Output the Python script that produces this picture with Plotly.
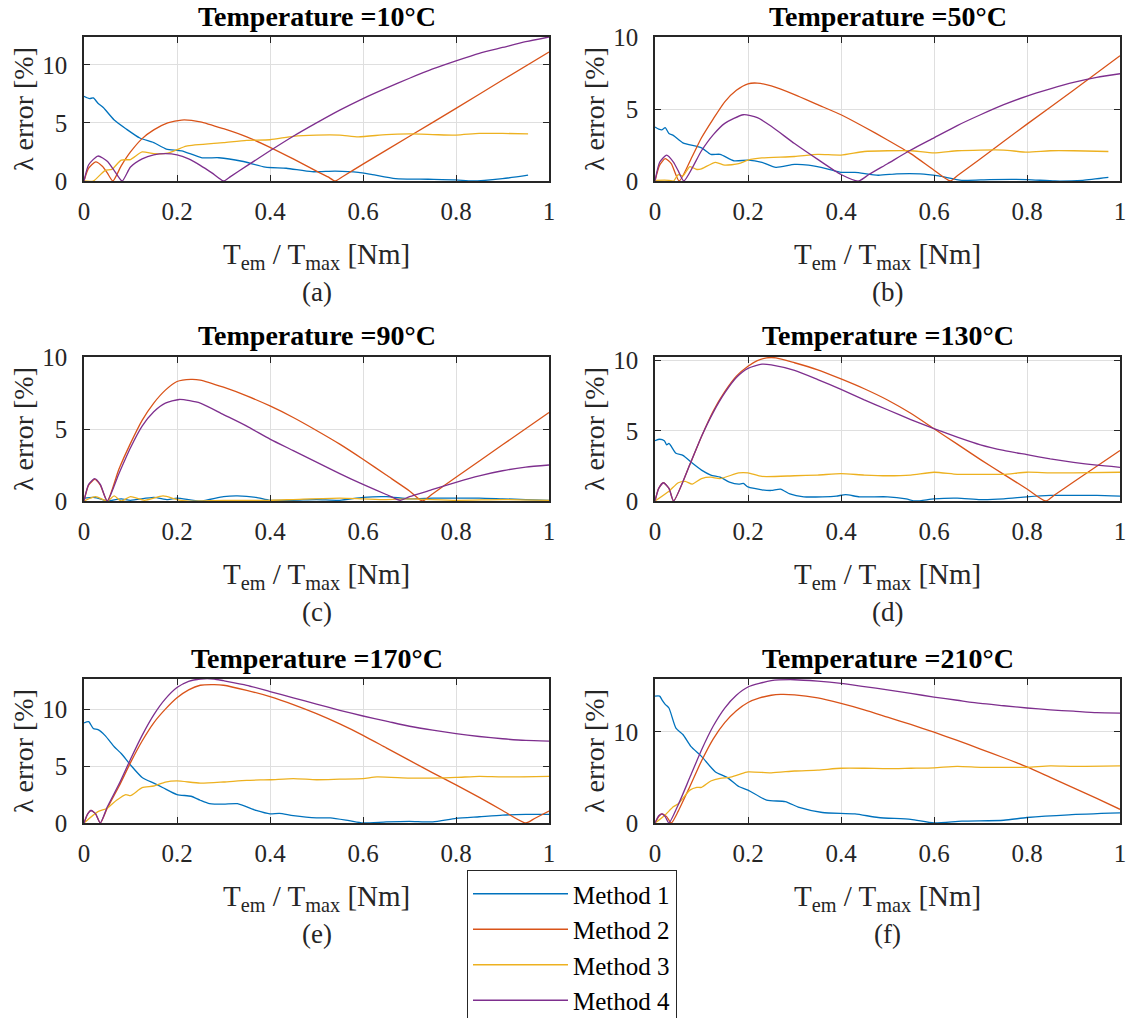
import plotly.graph_objects as go

# ---------------- data ----------------
TITLES = ["Temperature =10°C", "Temperature =50°C", "Temperature =90°C",
          "Temperature =130°C", "Temperature =170°C", "Temperature =210°C"]
LABELS = ["(a)", "(b)", "(c)", "(d)", "(e)", "(f)"]
METHODS = ["Method 1", "Method 2", "Method 3", "Method 4"]
X_TITLE = "T<sub>em</sub> / T<sub>max</sub> [Nm]"
Y_TITLE = "λ error [%]"
X_TICKS = [0, 0.2, 0.4, 0.6, 0.8, 1]
X_TICKTEXT = ["0", "0.2", "0.4", "0.6", "0.8", "1"]
Y_MAX = [12.4, 10.0, 10.0, 10.26, 12.65, 15.78]
Y_TICKS = [[0, 5, 10], [0, 5, 10], [0, 5, 10], [0, 5, 10], [0, 5, 10], [0, 10]]

# Panel (a) 10°C
A_M1_X = [0, 0.012, 0.02, 0.03, 0.042, 0.065, 0.09, 0.12, 0.15, 0.177, 0.21, 0.254, 0.29, 0.34, 0.39, 0.435,
          0.49, 0.54, 0.59, 0.62, 0.67, 0.74, 0.8, 0.835, 0.9, 0.955]
A_M1_Y = [7.3, 7.1, 7.15, 6.7, 6.3, 5.25, 4.5, 3.7, 3.3, 2.75, 2.6, 2.0, 2.0, 1.7, 1.2, 1.1,
          0.8, 0.85, 0.75, 0.55, 0.2, 0.15, 0.1, 0.0, 0.2, 0.5]
A_M2_X = [0, 0.01, 0.025, 0.04, 0.05, 0.062, 0.08, 0.1, 0.125, 0.15, 0.18, 0.21, 0.25, 0.3, 0.35, 0.4,
          0.45, 0.5, 0.525, 0.54, 0.555, 0.6, 0.7, 0.8, 0.9, 1.0]
A_M2_Y = [0, 1.1, 1.65, 1.25, 0.7, 0, 1.3, 2.5, 3.65, 4.4, 5.0, 5.25, 5.1, 4.5, 3.8, 2.9,
          1.9, 0.85, 0.35, 0, 0.35, 1.45, 3.85, 6.25, 8.7, 11.1]
A_M3_X = [0, 0.02, 0.045, 0.06, 0.08, 0.1, 0.125, 0.15, 0.18, 0.2, 0.22, 0.3, 0.35, 0.4, 0.45, 0.5,
          0.55, 0.59, 0.65, 0.7, 0.75, 0.8, 0.85, 0.9, 0.955]
A_M3_Y = [0, 0, 0.9, 1.0, 1.8, 1.85, 2.5, 2.35, 2.4, 2.7, 3.0, 3.3, 3.5, 3.55, 3.85, 3.95,
          3.95, 3.8, 4.0, 4.05, 4.0, 3.95, 4.1, 4.1, 4.05]
A_M4_X = [0, 0.01, 0.03, 0.05, 0.065, 0.082, 0.1, 0.125, 0.15, 0.175, 0.2, 0.225, 0.25, 0.275, 0.3,
          0.315, 0.35, 0.4, 0.45, 0.5, 0.55, 0.6, 0.65, 0.7, 0.75, 0.8, 0.85, 0.9, 0.95, 1.0]
A_M4_Y = [0, 1.4, 2.15, 1.7, 0.9, 0, 1.2, 1.9, 2.25, 2.35, 2.25, 1.9, 1.35, 0.7, 0,
          0.38, 1.3, 2.6, 3.85, 5.0, 6.1, 7.1, 8.0, 8.85, 9.65, 10.35, 11.0, 11.5, 12.0, 12.4]

# Panel (b) 50°C
B_M1_X = [0, 0.008, 0.015, 0.022, 0.03, 0.04, 0.06, 0.1, 0.12, 0.14, 0.17, 0.2, 0.23, 0.26, 0.3, 0.33,
          0.37, 0.4, 0.43, 0.48, 0.52, 0.57, 0.61, 0.66, 0.72, 0.8, 0.86, 0.92, 0.975]
B_M1_Y = [3.75, 3.6, 3.55, 3.7, 3.3, 3.15, 2.65, 2.3, 1.85, 1.85, 1.4, 1.45, 1.3, 0.95, 1.15, 1.1,
          0.85, 0.6, 0.6, 0.4, 0.5, 0.5, 0.35, 0.05, 0.1, 0.1, 0.0, 0.05, 0.25]
B_M2_X = [0, 0.01, 0.022, 0.035, 0.052, 0.08, 0.1, 0.125, 0.15, 0.175, 0.2, 0.22, 0.25, 0.3, 0.35,
          0.4, 0.45, 0.5, 0.55, 0.6, 0.635, 0.65, 0.7, 0.8, 0.9, 1.0]
B_M2_Y = [0, 1.1, 1.55, 1.2, 0, 1.7, 3.0, 4.3, 5.5, 6.3, 6.75, 6.8, 6.6, 6.0, 5.3,
          4.6, 3.75, 2.85, 1.9, 0.75, 0, 0.36, 1.55, 3.95, 6.3, 8.7]
B_M3_X = [0, 0.03, 0.04, 0.05, 0.06, 0.075, 0.09, 0.1, 0.13, 0.15, 0.18, 0.2, 0.23, 0.3, 0.35, 0.4,
          0.45, 0.5, 0.55, 0.6, 0.65, 0.7, 0.75, 0.8, 0.85, 0.9, 0.975]
B_M3_Y = [0.05, 0.05, 0.0, 0.45, 0.35, 1.0, 0.8, 0.85, 1.3, 1.1, 1.2, 1.45, 1.6, 1.7, 1.85, 1.8,
          2.05, 2.1, 2.1, 1.95, 2.1, 2.15, 2.15, 2.0, 2.1, 2.1, 2.05]
B_M4_X = [0, 0.01, 0.025, 0.04, 0.05, 0.062, 0.1, 0.125, 0.15, 0.19, 0.22, 0.25, 0.3, 0.35, 0.4,
          0.438, 0.46, 0.5, 0.55, 0.6, 0.65, 0.7, 0.75, 0.8, 0.85, 0.9, 0.95, 1.0]
B_M4_Y = [0, 1.3, 1.8, 1.3, 0.7, 0, 2.1, 3.2, 4.0, 4.6, 4.4, 3.8, 2.6, 1.5, 0.45,
          0, 0.45, 1.2, 2.15, 3.0, 3.85, 4.6, 5.3, 5.9, 6.4, 6.85, 7.2, 7.45]

# Panel (c) 90°C
C_M1_X = [0, 0.02, 0.04, 0.05, 0.08, 0.1, 0.15, 0.18, 0.2, 0.25, 0.3, 0.33, 0.37, 0.4, 0.45, 0.5,
          0.55, 0.6, 0.65, 0.7, 0.75, 0.8, 0.85, 0.9, 0.95, 1.0]
C_M1_Y = [0.2, 0.25, 0.1, 0.0, 0.15, 0.05, 0.25, 0.1, 0.2, 0.0, 0.3, 0.35, 0.25, 0.05, 0.05, 0.1,
          0.05, 0.25, 0.3, 0.15, 0.2, 0.2, 0.2, 0.15, 0.1, 0.05]
C_M2_X = [0, 0.01, 0.023, 0.035, 0.05, 0.075, 0.1, 0.125, 0.15, 0.175, 0.2, 0.23, 0.25, 0.3, 0.35,
          0.4, 0.45, 0.5, 0.55, 0.6, 0.65, 0.7, 0.728, 0.75, 0.8, 0.9, 1.0]
C_M2_Y = [0, 1.1, 1.5, 1.1, 0, 2.2, 4.0, 5.6, 6.8, 7.7, 8.3, 8.45, 8.4, 7.9, 7.3,
          6.6, 5.8, 4.9, 3.95, 2.9, 1.8, 0.7, 0, 0.5, 1.65, 3.9, 6.15]
C_M3_X = [0, 0.025, 0.05, 0.065, 0.08, 0.1, 0.13, 0.17, 0.2, 0.22, 0.3, 0.4, 0.45, 0.55, 0.6, 0.65,
          0.7, 0.8, 0.9, 1.0]
C_M3_Y = [0, 0.3, 0, 0.35, 0.0, 0.3, 0.05, 0.35, 0.1, 0.0, 0.05, 0.05, 0.1, 0.2, 0.15, 0.1,
          0.15, 0.05, 0.1, 0.05]
C_M4_X = [0, 0.01, 0.023, 0.035, 0.05, 0.075, 0.1, 0.125, 0.15, 0.175, 0.205, 0.25, 0.3, 0.35, 0.4,
          0.45, 0.5, 0.55, 0.6, 0.65, 0.68, 0.7, 0.75, 0.8, 0.85, 0.9, 0.95, 1.0]
C_M4_Y = [0, 1.15, 1.55, 1.15, 0, 1.9, 3.7, 5.2, 6.2, 6.8, 7.05, 6.8, 6.0, 5.2, 4.3,
          3.5, 2.7, 1.9, 1.15, 0.45, 0.05, 0.3, 0.8, 1.3, 1.75, 2.1, 2.35, 2.5]

# Panel (d) 130°C
D_M1_X = [0, 0.01, 0.02, 0.025, 0.03, 0.045, 0.06, 0.08, 0.1, 0.12, 0.14, 0.16, 0.18, 0.19, 0.2,
          0.23, 0.25, 0.27, 0.29, 0.32, 0.36, 0.39, 0.41, 0.44, 0.5, 0.54, 0.56, 0.6, 0.65, 0.7,
          0.75, 0.8, 0.85, 0.9, 0.95, 1.0]
D_M1_Y = [4.3, 4.4, 4.3, 4.0, 4.1, 3.4, 3.25, 2.7, 2.2, 1.85, 1.7, 1.35, 1.2, 1.25, 1.0,
          0.8, 0.75, 0.85, 0.5, 0.3, 0.3, 0.35, 0.45, 0.3, 0.3, 0.15, 0.0, 0.15, 0.2, 0.1,
          0.15, 0.3, 0.4, 0.4, 0.4, 0.35]
D_M2_X = [0, 0.008, 0.018, 0.03, 0.04, 0.075, 0.1, 0.125, 0.15, 0.175, 0.2, 0.22, 0.24, 0.26, 0.3,
          0.35, 0.4, 0.45, 0.5, 0.55, 0.6, 0.65, 0.7, 0.75, 0.8, 0.84, 0.86, 0.9, 1.0]
D_M2_Y = [0, 0.9, 1.3, 0.9, 0, 2.6, 4.6, 6.4, 7.8, 8.9, 9.6, 10.0, 10.2, 10.2, 9.85,
          9.35, 8.7, 8.0, 7.2, 6.25, 5.15, 4.05, 2.95, 1.9, 0.85, 0, 0.45, 1.35, 3.6]
D_M3_X = [0, 0.03, 0.05, 0.065, 0.08, 0.1, 0.12, 0.14, 0.18, 0.2, 0.23, 0.3, 0.35, 0.4, 0.45, 0.5,
          0.55, 0.6, 0.65, 0.7, 0.75, 0.8, 0.85, 0.9, 1.0]
D_M3_Y = [0, 0.7, 1.3, 1.4, 1.2, 1.6, 1.7, 1.6, 2.0, 2.0, 1.75, 1.8, 1.85, 1.95, 1.85, 1.8,
          1.85, 2.05, 1.9, 1.9, 1.9, 2.05, 2.0, 2.0, 2.05]
D_M4_X = [0, 0.008, 0.018, 0.03, 0.04, 0.075, 0.1, 0.125, 0.15, 0.175, 0.2, 0.23, 0.25, 0.3, 0.35,
          0.4, 0.45, 0.5, 0.55, 0.6, 0.65, 0.7, 0.75, 0.8, 0.85, 0.9, 0.95, 1.0]
D_M4_Y = [0, 0.9, 1.3, 0.9, 0, 2.6, 4.6, 6.3, 7.7, 8.8, 9.45, 9.75, 9.7, 9.3, 8.65,
          7.95, 7.2, 6.5, 5.8, 5.15, 4.55, 4.0, 3.6, 3.3, 3.0, 2.75, 2.55, 2.4]

# Panel (e) 170°C
E_M1_X = [0, 0.01, 0.02, 0.03, 0.045, 0.065, 0.08, 0.1, 0.125, 0.15, 0.17, 0.2, 0.23, 0.25, 0.27,
          0.3, 0.33, 0.37, 0.4, 0.42, 0.45, 0.5, 0.53, 0.57, 0.6, 0.65, 0.7, 0.75, 0.8, 0.85, 0.9,
          0.95, 1.0]
E_M1_Y = [8.8, 8.9, 8.3, 8.2, 7.7, 6.7, 6.1, 5.1, 4.0, 3.5, 3.1, 2.5, 2.35, 2.0, 1.7,
          1.65, 1.7, 1.1, 0.8, 0.85, 0.65, 0.45, 0.45, 0.2, 0.0, 0.1, 0.15, 0.1, 0.4, 0.55, 0.7,
          0.75, 0.75]
E_M2_X = [0, 0.008, 0.015, 0.025, 0.035, 0.05, 0.075, 0.1, 0.125, 0.15, 0.175, 0.2, 0.225, 0.25,
          0.28, 0.3, 0.35, 0.4, 0.45, 0.5, 0.55, 0.6, 0.65, 0.7, 0.75, 0.8, 0.85, 0.9, 0.95, 0.97, 1.0]
E_M2_Y = [0, 0.8, 1.1, 0.8, 0, 1.3, 3.2, 5.3, 7.2, 8.8, 10.0, 11.0, 11.7, 12.1,
          12.15, 12.1, 11.65, 11.1, 10.4, 9.6, 8.7, 7.7, 6.6, 5.5, 4.4, 3.35, 2.25, 1.1, 0.0, 0.42, 1.05]
E_M3_X = [0, 0.03, 0.05, 0.07, 0.09, 0.1, 0.125, 0.15, 0.175, 0.2, 0.25, 0.3, 0.35, 0.4, 0.45, 0.5,
          0.55, 0.6, 0.63, 0.7, 0.75, 0.8, 0.85, 0.9, 1.0]
E_M3_Y = [0, 1.0, 1.3, 2.0, 2.5, 2.4, 3.1, 3.25, 3.6, 3.7, 3.5, 3.6, 3.75, 3.8, 3.9, 3.8,
          3.85, 3.9, 4.05, 3.95, 3.95, 4.0, 4.1, 4.05, 4.1]
E_M4_X = [0, 0.008, 0.015, 0.025, 0.035, 0.05, 0.075, 0.1, 0.125, 0.15, 0.175, 0.2, 0.225, 0.25,
          0.28, 0.3, 0.35, 0.4, 0.45, 0.5, 0.55, 0.6, 0.65, 0.7, 0.75, 0.8, 0.85, 0.9, 0.95, 1.0]
E_M4_Y = [0, 0.8, 1.1, 0.8, 0, 1.4, 3.4, 5.6, 7.7, 9.5, 10.9, 11.9, 12.45, 12.65,
          12.65, 12.5, 12.1, 11.55, 11.0, 10.45, 9.9, 9.4, 8.95, 8.5, 8.15, 7.85, 7.6, 7.4, 7.25, 7.2]

# Panel (f) 210°C
F_M1_X = [0, 0.01, 0.015, 0.022, 0.03, 0.045, 0.06, 0.077, 0.1, 0.13, 0.155, 0.18, 0.2, 0.24, 0.28,
          0.31, 0.36, 0.43, 0.48, 0.55, 0.6, 0.66, 0.75, 0.8, 0.89, 1.0]
F_M1_Y = [13.9, 13.9, 13.5, 13.0, 12.6, 10.4, 9.7, 8.4, 7.3, 5.6, 5.0, 4.0, 3.6, 2.5, 2.35,
          1.7, 1.15, 1.0, 0.6, 0.4, 0.0, 0.2, 0.3, 0.6, 0.9, 1.1]
F_M2_X = [0, 0.008, 0.015, 0.025, 0.035, 0.05, 0.075, 0.1, 0.125, 0.15, 0.175, 0.2, 0.225, 0.25,
          0.27, 0.3, 0.35, 0.4, 0.45, 0.5, 0.55, 0.6, 0.65, 0.7, 0.75, 0.8, 0.85, 0.9, 0.95, 1.0]
F_M2_Y = [0, 0.7, 1.0, 0.7, 0, 1.3, 4.0, 6.8, 9.2, 11.0, 12.3, 13.2, 13.7, 14.0,
          14.1, 14.05, 13.7, 13.1, 12.4, 11.6, 10.8, 9.95, 9.05, 8.1, 7.15, 6.15, 5.0, 3.85, 2.7, 1.5]
F_M3_X = [0, 0.02, 0.04, 0.05, 0.075, 0.09, 0.1, 0.12, 0.14, 0.16, 0.18, 0.2, 0.25, 0.3, 0.35, 0.4,
          0.45, 0.5, 0.55, 0.6, 0.65, 0.7, 0.75, 0.8, 0.85, 0.9, 1.0]
F_M3_Y = [0, 0.8, 1.8, 2.1, 3.6, 3.9, 3.9, 4.6, 4.9, 5.0, 5.3, 5.6, 5.5, 5.7, 5.8, 6.0,
          6.0, 5.95, 6.0, 6.05, 6.2, 6.1, 6.1, 6.1, 6.25, 6.2, 6.25]
F_M4_X = [0, 0.008, 0.015, 0.022, 0.03, 0.05, 0.075, 0.1, 0.125, 0.15, 0.175, 0.2, 0.25, 0.3, 0.35,
          0.4, 0.45, 0.5, 0.55, 0.6, 0.65, 0.7, 0.75, 0.8, 0.85, 0.9, 0.95, 1.0]
F_M4_Y = [0, 0.8, 1.0, 0.7, 0, 2.0, 5.0, 8.0, 10.6, 12.6, 14.0, 14.9, 15.6, 15.7, 15.55,
          15.3, 14.95, 14.6, 14.2, 13.8, 13.45, 13.1, 12.85, 12.6, 12.4, 12.25, 12.1, 12.05]

PANELS = [
    [(A_M1_X, A_M1_Y), (A_M2_X, A_M2_Y), (A_M3_X, A_M3_Y), (A_M4_X, A_M4_Y)],
    [(B_M1_X, B_M1_Y), (B_M2_X, B_M2_Y), (B_M3_X, B_M3_Y), (B_M4_X, B_M4_Y)],
    [(C_M1_X, C_M1_Y), (C_M2_X, C_M2_Y), (C_M3_X, C_M3_Y), (C_M4_X, C_M4_Y)],
    [(D_M1_X, D_M1_Y), (D_M2_X, D_M2_Y), (D_M3_X, D_M3_Y), (D_M4_X, D_M4_Y)],
    [(E_M1_X, E_M1_Y), (E_M2_X, E_M2_Y), (E_M3_X, E_M3_Y), (E_M4_X, E_M4_Y)],
    [(F_M1_X, F_M1_Y), (F_M2_X, F_M2_Y), (F_M3_X, F_M3_Y), (F_M4_X, F_M4_Y)],
]

# ---------------- styling ----------------
W, H = 1128, 1018
COLORS = ["#0072BD", "#D95319", "#EDB120", "#7E2F8E"]
FONT = "Liberation Serif"
INK = "#262626"
GRID = "#dfdfdf"

COL_PX = [(84, 549), (655, 1120)]
ROW_PX = [(37, 181), (357, 501), (679, 823)]

fig = go.Figure()
annotations = []

for i, series in enumerate(PANELS):
    r, c = divmod(i, 2)
    x0, x1 = COL_PX[c]
    y0, y1 = ROW_PX[r]
    xdom = [x0 / W, x1 / W]
    ydom = [1 - y1 / H, 1 - y0 / H]
    xa = "x" if i == 0 else f"x{i+1}"
    ya = "y" if i == 0 else f"y{i+1}"
    for k, (xs, ys) in enumerate(series):
        fig.add_trace(go.Scatter(
            x=xs, y=ys, mode="lines", name=METHODS[k],
            line=dict(color=COLORS[k], width=1.3, shape="spline", smoothing=0.6),
            xaxis=xa, yaxis=ya, legendgroup=METHODS[k], showlegend=(i == 0),
        ))
    xkey = "xaxis" if i == 0 else f"xaxis{i+1}"
    ykey = "yaxis" if i == 0 else f"yaxis{i+1}"
    fig.update_layout({
        xkey: dict(
            domain=xdom, anchor=ya, range=[0, 1],
            tickmode="array", tickvals=X_TICKS, ticktext=X_TICKTEXT, ticklabelstandoff=7,
        ),
        ykey: dict(
            domain=ydom, anchor=xa, range=[0, Y_MAX[i]],
            tickmode="array", tickvals=Y_TICKS[i], ticklabelstandoff=10,
            title=dict(text=Y_TITLE, font=dict(family=FONT, size=28, color=INK), standoff=0),
        ),
    })
    cx = (x0 + x1) / 2 / W
    annotations.append(dict(
        text=f"<b>{TITLES[i]}</b>", x=cx, y=1 - (y0 - 21) / H, xref="paper", yref="paper",
        xanchor="center", yanchor="middle", showarrow=False,
        font=dict(family=FONT, size=28, color="#000000"),
    ))
    # x-axis title
    annotations.append(dict(
        text=X_TITLE, x=cx, y=1 - (y1 + 75) / H, xref="paper", yref="paper",
        xanchor="center", yanchor="middle", showarrow=False,
        font=dict(family=FONT, size=29, color=INK),
    ))
    annotations.append(dict(
        text=LABELS[i], x=cx, y=1 - (y1 + 111) / H, xref="paper", yref="paper",
        xanchor="center", yanchor="middle", showarrow=False,
        font=dict(family=FONT, size=27, color=INK),
    ))

axis_style = dict(
    showline=True, linecolor=INK, linewidth=1.6, mirror="ticks",
    ticks="inside", ticklen=6, tickwidth=1.4, tickcolor=INK,
    showgrid=True, gridcolor=GRID, gridwidth=1, zeroline=False,
    tickfont=dict(family=FONT, size=25, color=INK),
)
fig.update_xaxes(**axis_style)
fig.update_yaxes(**axis_style)

fig.update_layout(
    width=W, height=H,
    font=dict(family=FONT, size=25, color=INK),
    margin=dict(l=0, r=0, t=0, b=0, autoexpand=False),
    paper_bgcolor="white", plot_bgcolor="white",
    annotations=annotations,
    showlegend=True,
    legend=dict(
        x=467 / W, y=1 - 870 / H, xanchor="left", yanchor="top",
        bgcolor="white", bordercolor=INK, borderwidth=1,
        font=dict(family=FONT, size=25, color="#000000"),
        itemwidth=95, tracegroupgap=0,
    ),
)

fig.write_html("out.html")
